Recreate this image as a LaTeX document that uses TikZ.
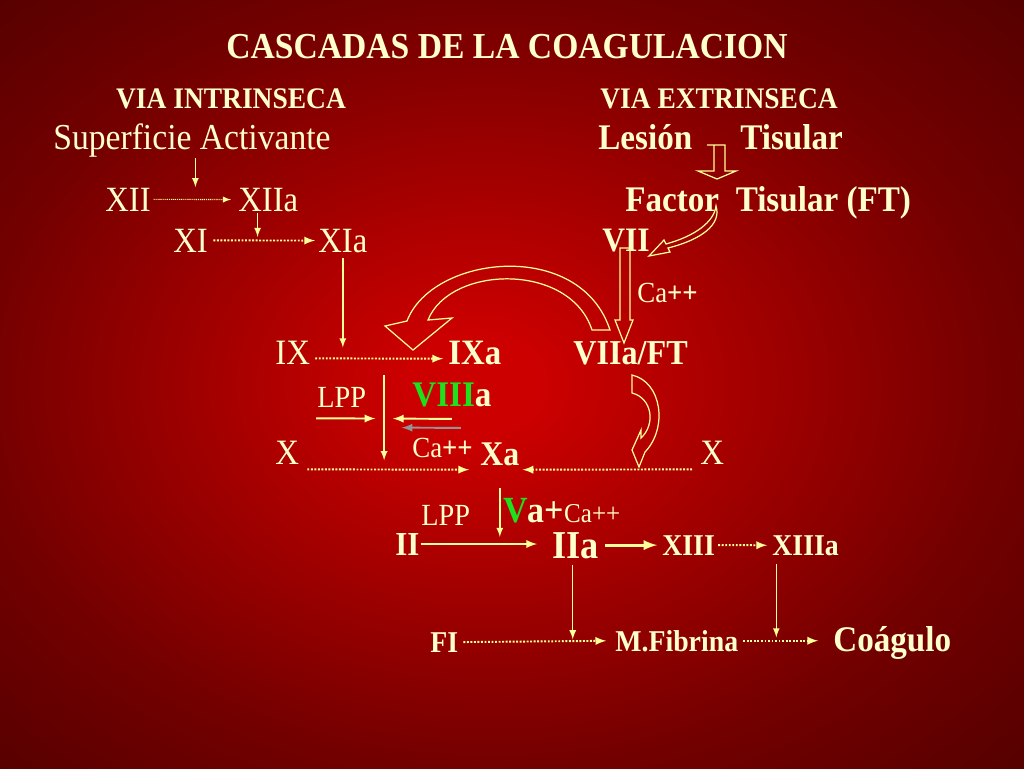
\documentclass[tikz,border=0pt]{standalone}
\usepackage{fontspec}
\setmainfont{Liberation Serif}[FakeStretch=0.92]
\usetikzlibrary{calc}
\definecolor{cream}{RGB}{255,255,204}
\definecolor{arr}{RGB}{255,255,153}
\definecolor{grn}{RGB}{30,225,30}
\definecolor{bgA}{RGB}{205,0,0}
\definecolor{bgB}{RGB}{115,0,0}
\definecolor{bgC}{RGB}{85,0,0}
\pgfdeclareradialshading{bgshade}{\pgfpoint{-2bp}{0bp}}{color(0bp)=(bgA); color(3bp)=(bgA); color(25bp)=(bgB); color(36bp)=(bgC); color(50bp)=(bgC)}
\newcommand\fsz[1]{\fontsize{#1}{#1}\selectfont}
\begin{document}
\begin{tikzpicture}[x=0.02cm,y=-0.02cm,
  lab/.style={inner sep=0,anchor=base west,text=cream},
  sol/.style={->,>=latex,draw=arr,line width=1.1pt},
  thin/.style={->,>=latex,draw=arr,line width=0.8pt},
  dots/.style={->,>=latex,draw=arr,line width=1.1pt,dash pattern=on 1.1pt off 0.9pt},
  dotsthin/.style={->,>=latex,draw=arr,line width=0.6pt,dash pattern=on 0.6pt off 0.5pt},
  hollow/.style={draw=arr,line width=0.7pt}]
  \useasboundingbox (0,0) rectangle (1024,768);
  \shade[shading=bgshade] (0,0) rectangle (1024,768);
  % titles
  \node[lab,anchor=base,font=\bfseries\fsz{20.8}] (title) at (507,58) {CASCADAS DE LA COAGULACION};
  \node[lab,anchor=base,font=\bfseries\fsz{17}] (vi) at (231,108) {VIA INTRINSECA};
  \node[lab,anchor=base,font=\bfseries\fsz{17}] (ve) at (719,108) {VIA EXTRINSECA};
  % via intrinseca
  \node[lab,font=\fsz{20.8}] (sup) at (53,149) {Superficie Activante};
  \node[lab,font=\fsz{20.2}] (xii) at (105,211) {XII};
  \node[lab,font=\fsz{20.2}] (xiia) at (238,211) {XIIa};
  \node[lab,font=\fsz{20.2}] (xi) at (173,252) {XI};
  \node[lab,font=\fsz{20.2}] (xia) at (318,252) {XIa};
  % via extrinseca
  \node[lab,font=\bfseries\fsz{20.5}] (les) at (598,149) {Lesión};
  \node[lab,font=\bfseries\fsz{20.5}] (tis) at (740,149) {Tisular};
  \node[lab,font=\bfseries\fsz{20.5}] (ft) at (625,211) {Factor\ \ Tisular (FT)};
  \node[lab,font=\bfseries\fsz{19.5}] (vii) at (602,251) {VII};
  \node[lab,font=\fsz{16.6}] (ca1) at (637,302) {Ca\textbf{++}};
  % comun
  \node[lab,font=\fsz{20.3}] (ix) at (275,364) {IX};
  \node[lab,font=\bfseries\fsz{20.3}] (ixa) at (448,364) {IXa};
  \node[lab,font=\bfseries\fsz{19.9}] (viia) at (573,364) {VIIa/FT};
  \node[lab,font=\fsz{17.5}] (lpp1) at (317,407) {LPP};
  \node[lab,font=\bfseries\fsz{20.5}] (viiia) at (412,406) {\textcolor{grn}{VIII}a};
  \node[lab,font=\fsz{20.3}] (x1) at (275,464) {X};
  \node[lab,font=\fsz{16.6}] (ca2) at (412,457) {Ca\textbf{++}};
  \node[lab,font=\bfseries\fsz{19.7}] (xa) at (480,465) {Xa};
  \node[lab,font=\fsz{20.3}] (x2) at (700,464) {X};
  \node[lab,font=\fsz{17.5}] (lpp2) at (421,525) {LPP};
  \node[lab,font=\bfseries\fsz{21}] (va) at (503,522) {\textcolor{grn}{V}a+{\mdseries\fsz{15.5}Ca++}};
  \node[lab,font=\bfseries\fsz{19.1}] (ii) at (395,555) {II};
  \node[lab,font=\bfseries\fsz{22.5}] (iia) at (552,558) {IIa};
  \node[lab,font=\bfseries\fsz{17.2}] (xiii) at (662,555) {XIII};
  \node[lab,font=\bfseries\fsz{17.2}] (xiiia) at (772,555) {XIIIa};
  \node[lab,font=\bfseries\fsz{17.2}] (fi) at (430,652) {FI};
  \node[lab,font=\bfseries\fsz{17.2}] (mf) at (615,651) {M.Fibrina};
  \node[lab,font=\bfseries\fsz{20.5}] (coag) at (833,651) {Coágulo};
  % points on the lines
  \coordinate (m1) at ($(xii.east)!0.51!(xiia.west)$);
  \coordinate (m2) at ($(xi.east)!0.45!(xia.west)$);
  \coordinate (vt) at ($(ix.south east)!0.536!(ixa.south west)$);
  \coordinate (vl) at ($(vt)+(0,54)$);
  \coordinate (f1) at ($(fi.east)!0.73!(mf.west)$);
  \coordinate (f2) at ($(mf.east)!0.4!(coag.west)$);
  % connectors
  \draw[thin,shorten <=0.5pt,shorten >=7pt] (sup.south -| m1) -- (m1);
  \draw[dotsthin,shorten <=1.5pt,shorten >=4pt] (xii.east) -- (xiia.west);
  \draw[thin,shorten <=1pt,shorten >=2pt] (xiia.south -| m2) -- (m2);
  \draw[dots,shorten <=3pt,shorten >=1.7pt] (xi.east) -- (xia.west);
  \draw[thin,shorten <=2.8pt,shorten >=9.6pt] (xia.south) -- (xia.south |- ix.south);
  \draw[dots,shorten <=2.8pt,shorten >=2.8pt] ([shift={(0,-6)}]ix.south east) -- ([shift={(0,-6)}]ixa.south west);
  \draw[thin,shorten <=6.2pt,shorten >=2.3pt] (vt) -- (vt |- x1.south);
  \draw[sol,shorten <=-0.5pt,shorten >=5pt] ([shift={(0,11)}]lpp1.south west) -- (vl);
  \draw[sol,shorten >=5pt] ([shift={(0,12)}]viiia.south) -- (vl);
  \draw[sol,draw=gray!85,shorten >=10pt] ([shift={(9,21)}]viiia.south) -- ([shift={(0,9)}]vl);
  \draw[dots,shorten <=4.5pt,shorten >=6.2pt] ([shift={(0,5)}]x1.south east) -- ([shift={(0,4)}]xa.south west);
  \draw[dots,shorten <=4.5pt,shorten >=1.7pt] ([shift={(0,5)}]x2.south west) -- ([shift={(0,4)}]xa.south east);
  \draw[thin,shorten <=12.5pt,shorten >=4pt] (xa.south) -- (xa.south |- ii.east);
  \draw[sol,shorten <=0.5pt,shorten >=8.5pt] (ii.east) -- (ii.east -| iia.west);
  \draw[sol,line width=1.6pt,shorten <=3.4pt,shorten >=2.8pt] (iia.east |- xiii.west) -- (xiii.west);
  \draw[dots,shorten <=1.7pt,shorten >=2.8pt] (xiii.east) -- (xiiia.west);
  \draw[dots,shorten <=2.8pt,shorten >=5pt] (fi.east) -- (mf.west);
  \draw[dots,shorten <=2.8pt,shorten >=8.5pt] (mf.east) -- (mf.east -| coag.west);
  \draw[thin,shorten <=3.5pt,shorten >=1pt] (f1 |- iia.south) -- (f1);
  \draw[thin,shorten <=4.5pt,shorten >=2.3pt] (f2 |- xiiia.south) -- (f2);
  % hollow arrows
  \draw[hollow] (707,145) -- (725,145) -- (725,171) -- (736,171) -- (717,179) -- (698,171) -- (714,171) -- (714,145);
  \draw[hollow] (716,206) .. controls (722,225) and (700,240) .. (668,248) -- (670,252) -- (649,256) -- (664,240) -- (666,244) .. controls (695,236) and (714,222) .. (716,206) -- cycle;
  \draw[hollow] (620,248) -- (630,248) -- (630,320) -- (633,320) -- (624,343) -- (615,320) -- (620,320) -- cycle;
  \draw[hollow] (592,330) -- (610,330) .. controls (580,238) and (432,255) .. (407,321) -- (385,326) -- (413,350) -- (452,318) -- (428,320) .. controls (450,265) and (570,262) .. (592,330) -- cycle;
  \draw[hollow] (632,375) .. controls (662,382) and (668,428) .. (645,452) -- (639,467) -- (632,450) -- (641,430) -- (641,438) .. controls (656,424) and (652,398) .. (632,393) -- cycle;
\end{tikzpicture}
\end{document}
